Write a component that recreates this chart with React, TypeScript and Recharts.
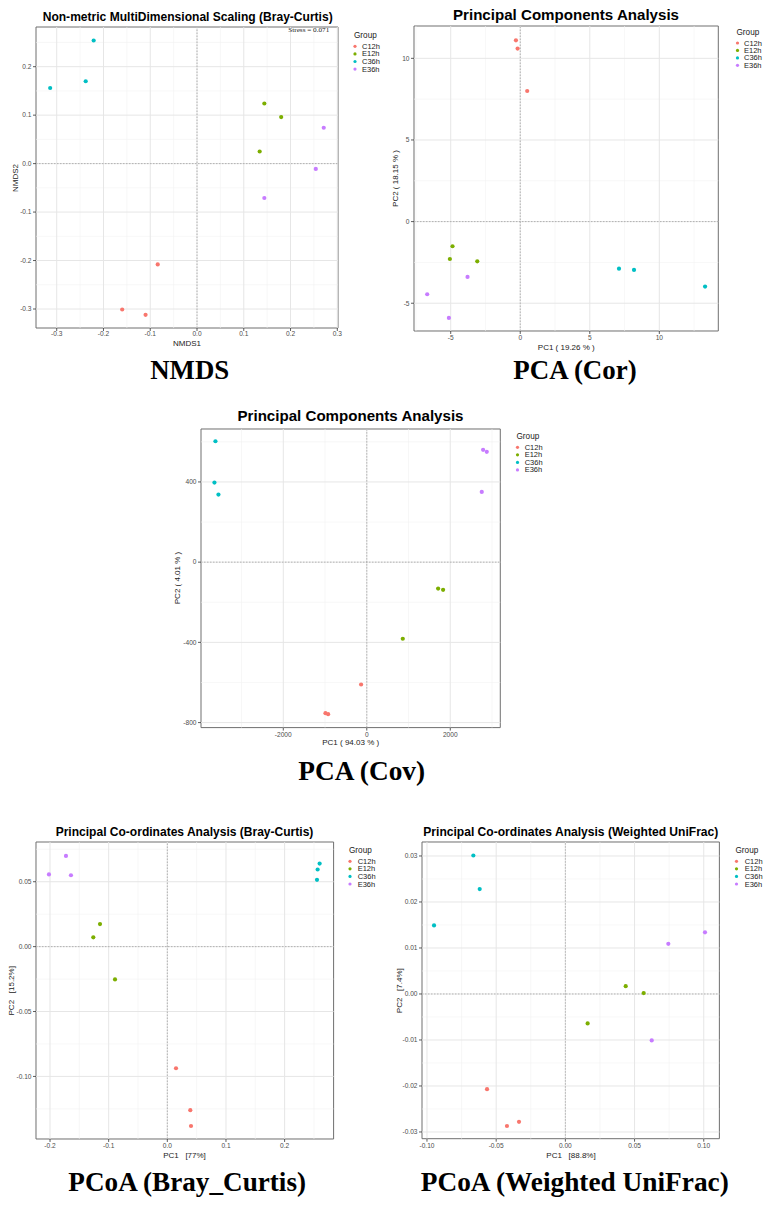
import React from 'react';
import { ScatterChart, Scatter, XAxis, YAxis, ReferenceLine, ReferenceArea } from 'recharts';

// ---------- shared ----------
const groups = ['C12h', 'E12h', 'C36h', 'E36h'];
const groupColors = ['#F8766D', '#7CAE00', '#00BFC4', '#C77CFF'];
const sampleGroup = ['C12h', 'C12h', 'C12h', 'E12h', 'E12h', 'E12h', 'C36h', 'C36h', 'C36h', 'E36h', 'E36h', 'E36h'];

// ---------- NMDS (Bray-Curtis) ----------
const nmdsX = [-0.084, -0.160, -0.110, 0.144, 0.180, 0.134, -0.221, -0.314, -0.238, 0.271, 0.254, 0.144];
const nmdsY = [-0.208, -0.301, -0.312, 0.124, 0.096, 0.025, 0.254, 0.156, 0.170, 0.074, -0.011, -0.071];
const nmdsXTicks = [-0.3, -0.2, -0.1, 0, 0.1, 0.2, 0.3];
const nmdsXMinor = [-0.25, -0.15, -0.05, 0.05, 0.15, 0.25];
const nmdsYTicks = [-0.3, -0.2, -0.1, 0, 0.1, 0.2];
const nmdsYMinor = [-0.25, -0.15, -0.05, 0.05, 0.15, 0.25];

// ---------- PCA (Cor) ----------
const pcaCorX = [-0.31, -0.19, 0.50, -4.87, -5.06, -3.09, 7.10, 8.18, 13.29, -3.79, -6.69, -5.13];
const pcaCorY = [11.1, 10.6, 8.0, -1.51, -2.29, -2.43, -2.88, -2.96, -3.98, -3.39, -4.45, -5.90];
const pcaCorXTicks = [-5, 0, 5, 10];
const pcaCorXMinor = [-7.5, -2.5, 2.5, 7.5, 12.5];
const pcaCorYTicks = [-5, 0, 5, 10];
const pcaCorYMinor = [-2.5, 2.5, 7.5];

// ---------- PCA (Cov) ----------
const pcaCovX = [-136, -990, -926, 1709, 1828, 862, -3625, -3649, -3553, 2786, 2874, 2754];
const pcaCovY = [-610, -753, -758, -132, -138, -382, 603, 397, 337, 560, 550, 350];
const pcaCovXTicks = [-2000, 0, 2000];
const pcaCovXMinor = [-3000, -1000, 1000, 3000];
const pcaCovYTicks = [-800, -400, 0, 400];
const pcaCovYMinor = [-600, -200, 200, 600];

// ---------- PCoA (Bray-Curtis) ----------
const pcoaBcX = [0.0148, 0.0392, 0.0404, -0.1148, -0.1262, -0.0892, 0.2597, 0.2563, 0.2552, -0.2018, -0.1728, -0.1643];
const pcoaBcY = [-0.0937, -0.1260, -0.1382, 0.0174, 0.0072, -0.0253, 0.0640, 0.0594, 0.0515, 0.0556, 0.0699, 0.0550];
const pcoaBcXTicks = [-0.2, -0.1, 0, 0.1, 0.2];
const pcoaBcXMinor = [-0.15, -0.05, 0.05, 0.15, 0.25];
const pcoaBcYTicks = [-0.1, -0.05, 0, 0.05];
const pcoaBcYMinor = [-0.125, -0.075, -0.025, 0.025, 0.075];

// ---------- PCoA (Weighted UniFrac) ----------
const pcoaWuX = [-0.0566, -0.0335, -0.0422, 0.0436, 0.0566, 0.0161, -0.0665, -0.0619, -0.0949, 0.1009, 0.0744, 0.0624];
const pcoaWuY = [-0.0207, -0.0278, -0.0287, 0.0017, 0.0002, -0.0064, 0.0301, 0.0228, 0.0149, 0.0134, 0.0109, -0.0101];
const pcoaWuXTicks = [-0.1, -0.05, 0, 0.05, 0.1];
const pcoaWuXMinor = [-0.075, -0.025, 0.025, 0.075];
const pcoaWuYTicks = [-0.03, -0.02, -0.01, 0, 0.01, 0.02, 0.03];
const pcoaWuYMinor = [-0.025, -0.015, -0.005, 0.005, 0.015, 0.025];

const SANS = '"Liberation Sans", Arial, Helvetica, sans-serif';
const SERIF = '"Liberation Serif", "Times New Roman", Times, serif';

type Cfg = {
  L: number; T: number; R: number; B: number;
  xs: number[]; ys: number[];
  xDomain: [number, number]; yDomain: [number, number];
  xTicks: number[]; xMinor: number[]; yTicks: number[]; yMinor: number[];
  xFmt: (v: number) => string; yFmt: (v: number) => string;
  xTickMargin: number;
  title: string; titleX: number; titleY: number; titleSize: number; titleLen: number;
  xTitle: string; xTitleX: number; xTitleY: number;
  yTitle: string; yTitleX: number; yTitleY: number;
  legX: number; legTitleY: number; legItemY: number; legStep: number; legTextX: number;
  caption: string; capX: number; capY: number; capLen: number;
};

const f1 = (v: number) => v.toFixed(1);
const f2 = (v: number) => v.toFixed(2);
const f0 = (v: number) => String(Math.round(v));

const panels: Cfg[] = [
  {
    L: 36, T: 27, R: 338, B: 328, xs: nmdsX, ys: nmdsY,
    xDomain: [-0.3443, 0.3015], yDomain: [-0.3392, 0.2819],
    xTicks: nmdsXTicks, xMinor: nmdsXMinor, yTicks: nmdsYTicks, yMinor: nmdsYMinor,
    xFmt: f1, yFmt: f1, xTickMargin: 0.5,
    title: 'Non-metric MultiDimensional Scaling (Bray-Curtis)', titleX: 187.7, titleY: 20.5, titleSize: 12, titleLen: 290,
    xTitle: 'NMDS1', xTitleX: 187, xTitleY: 343.5,
    yTitle: 'NMDS2', yTitleX: 15, yTitleY: 178,
    legX: 355, legTitleY: 38, legItemY: 46.3, legStep: 7.6, legTextX: 362,
    caption: 'NMDS', capX: 189.7, capY: 379, capLen: 79,
  },
  {
    L: 414, T: 26, R: 718.3, B: 331, xs: pcaCorX, ys: pcaCorY,
    xDomain: [-7.639, 14.24], yDomain: [-6.70, 11.98],
    xTicks: pcaCorXTicks, xMinor: pcaCorXMinor, yTicks: pcaCorYTicks, yMinor: pcaCorYMinor,
    xFmt: f0, yFmt: f0, xTickMargin: 1.5,
    title: 'Principal Components Analysis', titleX: 566, titleY: 19.5, titleSize: 15, titleLen: 226,
    xTitle: 'PC1 ( 19.26 % )', xTitleX: 566.3, xTitleY: 347,
    yTitle: 'PC2 ( 18.15 % )', yTitleX: 395.7, yTitleY: 178.5,
    legX: 737.5, legTitleY: 34.5, legItemY: 43, legStep: 7.45, legTextX: 744,
    caption: 'PCA (Cor)', capX: 575, capY: 379, capLen: 123.3,
  },
  {
    L: 201, T: 428.7, R: 500.3, B: 727.3, xs: pcaCovX, ys: pcaCovY,
    xDomain: [-3971, 3198], yDomain: [-825, 664],
    xTicks: pcaCovXTicks, xMinor: pcaCovXMinor, yTicks: pcaCovYTicks, yMinor: pcaCovYMinor,
    xFmt: f0, yFmt: f0, xTickMargin: 1.5,
    title: 'Principal Components Analysis', titleX: 350.5, titleY: 421, titleSize: 15, titleLen: 226,
    xTitle: 'PC1 ( 94.03 % )', xTitleX: 350.7, xTitleY: 742,
    yTitle: 'PC2 ( 4.01 % )', yTitleX: 177.7, yTitleY: 578,
    legX: 517.5, legTitleY: 439, legItemY: 447.3, legStep: 7.55, legTextX: 524.7,
    caption: 'PCA (Cov)', capX: 361.7, capY: 780, capLen: 126.7,
  },
  {
    L: 35.7, T: 842.3, R: 333.3, B: 1139.3, xs: pcoaBcX, ys: pcoaBcY,
    xDomain: [-0.2239, 0.2835], yDomain: [-0.1482, 0.0806],
    xTicks: pcoaBcXTicks, xMinor: pcoaBcXMinor, yTicks: pcoaBcYTicks, yMinor: pcoaBcYMinor,
    xFmt: f1, yFmt: f2, xTickMargin: 1.5,
    title: 'Principal Co-ordinates Analysis (Bray-Curtis)', titleX: 184.5, titleY: 836, titleSize: 12, titleLen: 257.7,
    xTitle: 'PC1   [77%]', xTitleX: 184.5, xTitleY: 1155,
    yTitle: 'PC2   [15.2%]', yTitleX: 11.7, yTitleY: 990.8,
    legX: 350, legTitleY: 853, legItemY: 861.3, legStep: 7.57, legTextX: 357.7,
    caption: 'PCoA (Bray_Curtis)', capX: 187.2, capY: 1190.5, capLen: 237.7,
  },
  {
    L: 422.3, T: 842.3, R: 719.7, B: 1139, xs: pcoaWuX, ys: pcoaWuY,
    xDomain: [-0.1036, 0.1113], yDomain: [-0.03146, 0.03304],
    xTicks: pcoaWuXTicks, xMinor: pcoaWuXMinor, yTicks: pcoaWuYTicks, yMinor: pcoaWuYMinor,
    xFmt: f2, yFmt: f2, xTickMargin: 1.5,
    title: 'Principal Co-ordinates Analysis (Weighted UniFrac)', titleX: 570.8, titleY: 836, titleSize: 12, titleLen: 295,
    xTitle: 'PC1   [88.8%]', xTitleX: 571, xTitleY: 1155,
    yTitle: 'PC2   [7.4%]', yTitleX: 399, yTitleY: 990.7,
    legX: 736.5, legTitleY: 853, legItemY: 861.3, legStep: 7.57, legTextX: 744.7,
    caption: 'PCoA (Weighted UniFrac)', capX: 574.8, capY: 1190.5, capLen: 308,
  },
];

const Y_W = 30;
const X_H = 16;
const M_T = 6;
const M_R = 16;

function Panel({ cfg }: { cfg: Cfg }) {
  const width = cfg.R - cfg.L + Y_W + M_R;
  const height = cfg.B - cfg.T + M_T + X_H;
  const series = groups.map((g) =>
    cfg.xs
      .map((x, i) => ({ x, y: cfg.ys[i], g: sampleGroup[i] }))
      .filter((d) => d.g === g)
  );
  const tickStyle = { fontSize: 6.6, fill: '#4d4d4d', fontFamily: SANS };
  return (
    <div style={{ position: 'absolute', left: cfg.L - Y_W, top: cfg.T - M_T }}>
      <ScatterChart width={width} height={height} margin={{ top: M_T, right: M_R, bottom: 0, left: 0 }}>
        <XAxis
          type="number" dataKey="x" domain={cfg.xDomain} ticks={cfg.xTicks} interval={0}
          allowDataOverflow height={X_H} tickFormatter={cfg.xFmt} tick={tickStyle}
          tickLine={{ stroke: '#333', strokeWidth: 0.8 }} tickSize={3} tickMargin={cfg.xTickMargin} axisLine={false}
        />
        <YAxis
          type="number" dataKey="y" domain={cfg.yDomain} ticks={cfg.yTicks} interval={0}
          allowDataOverflow width={Y_W} tickFormatter={cfg.yFmt} tick={tickStyle}
          tickLine={{ stroke: '#333', strokeWidth: 0.8 }} tickSize={3} tickMargin={1.5} axisLine={false}
        />
        {cfg.xMinor.map((v) => (
          <ReferenceLine key={'xm' + v} x={v} stroke="#f2f2f2" strokeWidth={0.6} />
        ))}
        {cfg.yMinor.map((v) => (
          <ReferenceLine key={'ym' + v} y={v} stroke="#f2f2f2" strokeWidth={0.6} />
        ))}
        {cfg.xTicks.map((v) => (
          <ReferenceLine key={'xM' + v} x={v} stroke="#e6e6e6" strokeWidth={1} />
        ))}
        {cfg.yTicks.map((v) => (
          <ReferenceLine key={'yM' + v} y={v} stroke="#e6e6e6" strokeWidth={1} />
        ))}
        <ReferenceLine x={0} stroke="#9a9a9a" strokeWidth={0.7} strokeDasharray="1.5 1.5" />
        <ReferenceLine y={0} stroke="#9a9a9a" strokeWidth={0.7} strokeDasharray="1.5 1.5" />
        <ReferenceArea
          x1={cfg.xDomain[0]} x2={cfg.xDomain[1]} y1={cfg.yDomain[0]} y2={cfg.yDomain[1]}
          fill="none" fillOpacity={0} stroke="#6e6e6e" strokeWidth={1}
        />
        {series.map((data, gi) => (
          <Scatter
            key={groups[gi]}
            name={groups[gi]}
            data={data}
            fill={groupColors[gi]}
            isAnimationActive={false}
            shape={(p: any) => <circle cx={p.cx} cy={p.cy} r={2.1} fill={groupColors[gi]} />}
          />
        ))}
      </ScatterChart>
    </div>
  );
}

function Overlay() {
  return (
    <svg
      width={767}
      height={1206}
      style={{ position: 'absolute', left: 0, top: 0, pointerEvents: 'none' }}
    >
      {panels.map((c, pi) => (
        <g key={pi}>
          <text x={c.titleX} y={c.titleY} textAnchor="middle" fontFamily={SANS} fontWeight="bold"
            fontSize={c.titleSize} fill="#000" textLength={c.titleLen} lengthAdjust="spacingAndGlyphs">
            {c.title}
          </text>
          <text x={c.xTitleX} y={c.xTitleY} textAnchor="middle" dominantBaseline="central"
            fontFamily={SANS} fontSize={8} fill="#222" style={{ whiteSpace: 'pre' }}>
            {c.xTitle}
          </text>
          <text transform={`translate(${c.yTitleX},${c.yTitleY}) rotate(-90)`} textAnchor="middle"
            dominantBaseline="central" fontFamily={SANS} fontSize={8} fill="#222" style={{ whiteSpace: 'pre' }}>
            {c.yTitle}
          </text>
          <text x={c.legX - 1} y={c.legTitleY} fontFamily={SANS} fontSize={8.2} fill="#222">Group</text>
          {groups.map((g, gi) => (
            <g key={g}>
              <circle cx={c.legX} cy={c.legItemY + gi * c.legStep} r={1.6} fill={groupColors[gi]} />
              <text x={c.legTextX} y={c.legItemY + gi * c.legStep} dominantBaseline="central"
                fontFamily={SANS} fontSize={7.5} fill="#222">
                {g}
              </text>
            </g>
          ))}
          <text x={c.capX} y={c.capY} textAnchor="middle" fontFamily={SERIF} fontWeight="bold"
            fontSize={27} fill="#000" textLength={c.capLen} lengthAdjust="spacingAndGlyphs">
            {c.caption}
          </text>
        </g>
      ))}
      <text x={308.8} y={32} textAnchor="middle" fontFamily={SERIF} fontSize={6.3} fill="#222"
        textLength={41} lengthAdjust="spacingAndGlyphs">
        Stress = 0.071
      </text>
    </svg>
  );
}

export default function App() {
  return (
    <div style={{ position: 'absolute', left: 0, top: 0, width: 767, height: 1206, background: '#fff' }}>
      {panels.map((c, i) => (
        <Panel key={i} cfg={c} />
      ))}
      <Overlay />
    </div>
  );
}
